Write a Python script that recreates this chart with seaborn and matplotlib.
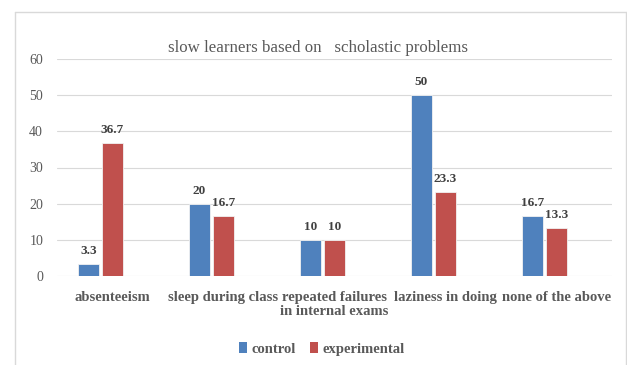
import matplotlib
matplotlib.use("Agg")
import matplotlib.pyplot as plt
import seaborn as sns
import pandas as pd
import numpy as np
from matplotlib.patches import Patch
from matplotlib.lines import Line2D

categories = ["absenteeism", "sleep during class", "repeated failures\nin internal exams",
              "laziness in doing", "none of the above"]
control = [3.3, 20, 10, 50, 16.7]
experimental = [36.7, 16.7, 10, 23.3, 13.3]
series_names = ["control", "experimental"]
title = "slow learners based on   scholastic problems"
yticks = [0, 10, 20, 30, 40, 50, 60]

colors = {"control": "#4F81BD", "experimental": "#C0504D", "blank": "#FFFFFF"}

df = pd.DataFrame({
    "category": categories * 3,
    "series": ["control"] * 5 + ["experimental"] * 5 + ["blank"] * 5,
    "value": control + experimental + [np.nan] * 5,
})

sns.set_theme(style="white")
plt.rcParams["font.family"] = ["Liberation Serif", "DejaVu Serif"]

W, H = 627, 365
fig = plt.figure(figsize=(W / 100, H / 100), dpi=100)
ax = fig.add_axes([57 / W, 1 - 276 / H, (612 - 57) / W, (276 - 59) / H])

sns.barplot(data=df, x="category", y="value", hue="series",
            hue_order=["control", "experimental", "blank"], order=categories,
            palette=colors, saturation=1, width=0.65, gap=0.15, ax=ax, errorbar=None,
            edgecolor="#F2F2F2", linewidth=0.6, legend=False)

ax.set_ylim(0, 60)
ax.set_xlim(-0.5, 4.5)
ax.set_yticks(yticks)
ax.set_yticklabels([str(t) for t in yticks], color="#595959", fontsize=10)
ax.yaxis.grid(True, color="#D9D9D9", linewidth=0.8)
ax.set_axisbelow(True)
for s in ax.spines.values():
    s.set_visible(False)
ax.tick_params(axis="both", length=0)
ax.tick_params(axis="y", pad=10)
ax.tick_params(axis="x", pad=11)
ax.set_xlabel("")
ax.set_ylabel("")
for lab in ax.get_xticklabels():
    lab.set_fontweight("bold")
    lab.set_color("#595959")
    lab.set_fontsize(10.5)
    lab.set_linespacing(1.1)

for cont in ax.containers[:2]:
    ax.bar_label(cont, fmt="%g", padding=5, fontsize=9.5, fontweight="bold", color="#404040")

fig.text(318 / W, 1 - 48 / H, title, ha="center", va="center",
         fontsize=12.2, color="#595959")

handles = [Patch(facecolor=colors[n], edgecolor="none") for n in series_names]
fig.legend(handles, series_names, loc="center", bbox_to_anchor=(322 / W, 1 - 349 / H),
           ncol=2, frameon=False, handlelength=0.55, handleheight=0.8, handletextpad=0.3,
           columnspacing=1.0, prop={"weight": "bold", "size": 10.5},
           labelcolor="#595959")

# outer frame
fc = "#D9D9D9"
fig.add_artist(Line2D([15.5 / W, 15.5 / W], [0, 1 - 11.5 / H], color=fc, lw=1, transform=fig.transFigure))
fig.add_artist(Line2D([15.5 / W, 625.5 / W], [1 - 11.5 / H, 1 - 11.5 / H], color=fc, lw=1, transform=fig.transFigure))
fig.add_artist(Line2D([625.5 / W, 625.5 / W], [0, 1 - 11.5 / H], color=fc, lw=1, transform=fig.transFigure))

fig.savefig("out.png", dpi=100, facecolor="white")
